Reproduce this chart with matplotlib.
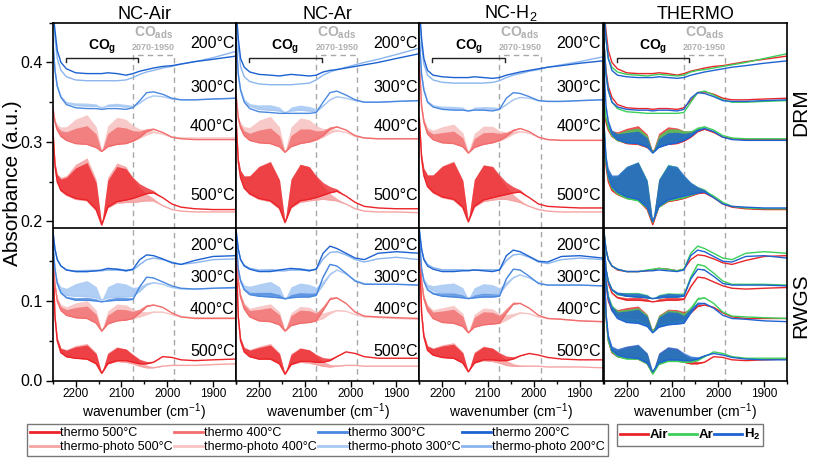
import numpy as np
import matplotlib
matplotlib.use("Agg")
import matplotlib.pyplot as plt
from matplotlib.lines import Line2D
from matplotlib.ticker import MultipleLocator

plt.rcParams['font.family'] = ['Liberation Sans', 'DejaVu Sans']
plt.rcParams['mathtext.fontset'] = 'custom'
plt.rcParams['mathtext.rm'] = 'Liberation Sans'
plt.rcParams['mathtext.it'] = 'Liberation Sans:italic'
plt.rcParams['mathtext.bf'] = 'Liberation Sans:bold'

# ---------------- data ----------------
wn = [2250, 2245, 2240, 2232, 2220, 2200, 2175, 2155, 2143, 2130, 2110,
      2090, 2075, 2060, 2045, 2030, 2010, 1990, 1970, 1940, 1900, 1850]
# normalised envelope of the gas-phase CO ro-vibrational band (P/R branches)
co_band_shape = [0, 0.08, 0.18, 0.30, 0.45, 0.80, 0.98, 0.70, 0.0, 0.70, 0.92,
                 0.82, 0.55, 0.32, 0.16, 0.06, 0, 0, 0, 0, 0, 0]
temps = ['500°C', '400°C', '300°C', '200°C']
columns = ['NC-Air', 'NC-Ar', 'NC-H$_2$', 'THERMO']
rows = ['DRM', 'RWGS']

# NC-Air, DRM
air_drm_t200 = [0.47, 0.44, 0.415, 0.400, 0.392, 0.387, 0.386, 0.386, 0.386, 0.387, 0.386, 0.384, 0.386, 0.389, 0.391, 0.393, 0.395, 0.396, 0.398, 0.401, 0.404, 0.408]
air_drm_p200 = [0.47, 0.43, 0.405, 0.390, 0.382, 0.378, 0.377, 0.377, 0.377, 0.377, 0.377, 0.378, 0.381, 0.385, 0.388, 0.390, 0.393, 0.395, 0.398, 0.401, 0.406, 0.414]
air_drm_t300 = [0.43, 0.39, 0.37, 0.356, 0.347, 0.343, 0.342, 0.342, 0.341, 0.342, 0.342, 0.341, 0.343, 0.352, 0.362, 0.363, 0.360, 0.355, 0.353, 0.353, 0.354, 0.355]
air_drm_p300 = [0.43, 0.39, 0.37, 0.357, 0.349, 0.346, 0.345, 0.345, 0.343, 0.345, 0.345, 0.344, 0.344, 0.349, 0.355, 0.358, 0.357, 0.354, 0.353, 0.353, 0.354, 0.355]
air_drm_t400 = [0.345, 0.325, 0.315, 0.307, 0.302, 0.298, 0.297, 0.293, 0.288, 0.294, 0.297, 0.298, 0.301, 0.306, 0.313, 0.316, 0.312, 0.306, 0.304, 0.303, 0.303, 0.303]
air_drm_p400 = [0.345, 0.325, 0.316, 0.308, 0.303, 0.300, 0.299, 0.294, 0.289, 0.295, 0.298, 0.299, 0.301, 0.305, 0.309, 0.312, 0.310, 0.306, 0.305, 0.305, 0.305, 0.305]
air_drm_t500 = [0.32, 0.27, 0.25, 0.239, 0.234, 0.229, 0.227, 0.215, 0.196, 0.218, 0.225, 0.227, 0.229, 0.232, 0.235, 0.236, 0.230, 0.222, 0.218, 0.216, 0.215, 0.215]
air_drm_p500 = [0.32, 0.27, 0.25, 0.239, 0.233, 0.228, 0.226, 0.214, 0.195, 0.217, 0.223, 0.224, 0.224, 0.225, 0.226, 0.226, 0.220, 0.215, 0.213, 0.212, 0.212, 0.212]
air_drm_band_thermo = [0.048, 0.024, 0.0, 0.0]
air_drm_band_photo = [0.055, 0.036, 0.004, 0.0]

# NC-Ar, DRM
ar_drm_t200 = [0.47, 0.43, 0.405, 0.394, 0.388, 0.385, 0.384, 0.383, 0.384, 0.385, 0.384, 0.383, 0.384, 0.388, 0.390, 0.391, 0.393, 0.395, 0.397, 0.400, 0.405, 0.411]
ar_drm_p200 = [0.47, 0.42, 0.395, 0.382, 0.376, 0.373, 0.372, 0.372, 0.372, 0.372, 0.373, 0.374, 0.378, 0.384, 0.388, 0.391, 0.394, 0.397, 0.400, 0.404, 0.410, 0.418]
ar_drm_t300 = [0.43, 0.385, 0.365, 0.350, 0.342, 0.338, 0.337, 0.336, 0.336, 0.336, 0.336, 0.336, 0.337, 0.350, 0.362, 0.364, 0.359, 0.353, 0.350, 0.350, 0.351, 0.352]
ar_drm_p300 = [0.43, 0.385, 0.366, 0.352, 0.345, 0.341, 0.340, 0.339, 0.337, 0.339, 0.340, 0.339, 0.338, 0.345, 0.353, 0.357, 0.355, 0.352, 0.350, 0.350, 0.351, 0.352]
ar_drm_t400 = [0.36, 0.33, 0.318, 0.308, 0.302, 0.299, 0.298, 0.294, 0.287, 0.294, 0.298, 0.300, 0.303, 0.308, 0.316, 0.319, 0.315, 0.308, 0.305, 0.304, 0.304, 0.304]
ar_drm_p400 = [0.36, 0.33, 0.318, 0.309, 0.303, 0.300, 0.299, 0.295, 0.288, 0.295, 0.299, 0.300, 0.302, 0.306, 0.311, 0.314, 0.312, 0.307, 0.305, 0.304, 0.304, 0.304]
ar_drm_t500 = [0.33, 0.275, 0.255, 0.242, 0.235, 0.229, 0.226, 0.217, 0.199, 0.218, 0.226, 0.228, 0.230, 0.233, 0.236, 0.238, 0.232, 0.224, 0.219, 0.217, 0.216, 0.216]
ar_drm_p500 = [0.33, 0.275, 0.255, 0.242, 0.234, 0.228, 0.225, 0.216, 0.198, 0.217, 0.224, 0.226, 0.227, 0.228, 0.227, 0.226, 0.222, 0.216, 0.213, 0.212, 0.212, 0.211]
ar_drm_band_thermo = [0.050, 0.020, 0.0, 0.0]
ar_drm_band_photo = [0.052, 0.034, 0.007, 0.0]

# NC-H2, DRM
h2_drm_t200 = [0.47, 0.43, 0.405, 0.390, 0.384, 0.382, 0.381, 0.381, 0.381, 0.382, 0.381, 0.380, 0.381, 0.384, 0.386, 0.388, 0.390, 0.392, 0.394, 0.396, 0.399, 0.402]
h2_drm_p200 = [0.47, 0.42, 0.398, 0.384, 0.378, 0.375, 0.374, 0.374, 0.374, 0.374, 0.374, 0.375, 0.377, 0.381, 0.384, 0.386, 0.389, 0.391, 0.394, 0.397, 0.401, 0.407]
h2_drm_t300 = [0.43, 0.385, 0.365, 0.350, 0.344, 0.341, 0.340, 0.340, 0.339, 0.340, 0.340, 0.339, 0.341, 0.355, 0.362, 0.361, 0.357, 0.352, 0.351, 0.351, 0.352, 0.353]
h2_drm_p300 = [0.43, 0.385, 0.366, 0.351, 0.345, 0.342, 0.341, 0.341, 0.339, 0.341, 0.341, 0.341, 0.341, 0.347, 0.353, 0.356, 0.355, 0.352, 0.351, 0.351, 0.352, 0.353]
h2_drm_t400 = [0.40, 0.345, 0.325, 0.310, 0.303, 0.299, 0.298, 0.294, 0.286, 0.293, 0.297, 0.299, 0.302, 0.307, 0.314, 0.317, 0.313, 0.306, 0.303, 0.302, 0.302, 0.302]
h2_drm_p400 = [0.40, 0.345, 0.325, 0.311, 0.304, 0.300, 0.299, 0.295, 0.287, 0.294, 0.298, 0.300, 0.301, 0.305, 0.310, 0.313, 0.311, 0.306, 0.303, 0.302, 0.302, 0.302]
h2_drm_t500 = [0.33, 0.28, 0.258, 0.244, 0.237, 0.231, 0.228, 0.218, 0.200, 0.219, 0.227, 0.230, 0.232, 0.234, 0.236, 0.237, 0.230, 0.222, 0.219, 0.218, 0.217, 0.217]
h2_drm_p500 = [0.33, 0.28, 0.258, 0.244, 0.236, 0.230, 0.227, 0.217, 0.199, 0.218, 0.225, 0.227, 0.228, 0.228, 0.226, 0.224, 0.219, 0.215, 0.213, 0.212, 0.212, 0.212]
h2_drm_band_thermo = [0.048, 0.016, 0.0, 0.0]
h2_drm_band_photo = [0.050, 0.024, 0.004, 0.0]

# NC-Air, RWGS
air_rwgs_t200 = [0.19, 0.165, 0.152, 0.144, 0.139, 0.137, 0.137, 0.138, 0.139, 0.141, 0.140, 0.138, 0.140, 0.152, 0.158, 0.157, 0.153, 0.148, 0.146, 0.151, 0.156, 0.157]
air_rwgs_p200 = [0.19, 0.165, 0.152, 0.144, 0.139, 0.137, 0.137, 0.138, 0.138, 0.139, 0.139, 0.138, 0.139, 0.146, 0.152, 0.154, 0.152, 0.149, 0.146, 0.148, 0.152, 0.153]
air_rwgs_t300 = [0.175, 0.14, 0.122, 0.110, 0.104, 0.101, 0.101, 0.100, 0.099, 0.100, 0.101, 0.101, 0.102, 0.118, 0.130, 0.129, 0.124, 0.119, 0.116, 0.115, 0.116, 0.117]
air_rwgs_p300 = [0.175, 0.14, 0.122, 0.112, 0.107, 0.106, 0.106, 0.104, 0.101, 0.104, 0.105, 0.105, 0.106, 0.112, 0.120, 0.123, 0.121, 0.117, 0.115, 0.115, 0.116, 0.116]
air_rwgs_t400 = [0.16, 0.12, 0.10, 0.088, 0.082, 0.079, 0.078, 0.072, 0.062, 0.071, 0.075, 0.076, 0.078, 0.085, 0.093, 0.095, 0.092, 0.085, 0.080, 0.078, 0.078, 0.078]
air_rwgs_p400 = [0.16, 0.12, 0.10, 0.089, 0.083, 0.080, 0.079, 0.073, 0.063, 0.072, 0.076, 0.077, 0.078, 0.080, 0.083, 0.086, 0.086, 0.083, 0.080, 0.079, 0.079, 0.079]
air_rwgs_t500 = [0.165, 0.08, 0.05, 0.035, 0.030, 0.028, 0.027, 0.021, 0.009, 0.021, 0.025, 0.025, 0.023, 0.021, 0.021, 0.023, 0.030, 0.029, 0.026, 0.025, 0.026, 0.027]
air_rwgs_p500 = [0.165, 0.08, 0.05, 0.035, 0.030, 0.028, 0.027, 0.021, 0.009, 0.021, 0.024, 0.023, 0.021, 0.018, 0.016, 0.016, 0.018, 0.019, 0.019, 0.019, 0.020, 0.021]
air_rwgs_band_thermo = [0.018, 0.016, 0.004, 0.0]
air_rwgs_band_photo = [0.020, 0.022, 0.020, 0.003]

# NC-Ar, RWGS
ar_rwgs_t200 = [0.19, 0.165, 0.152, 0.144, 0.140, 0.137, 0.137, 0.139, 0.140, 0.141, 0.140, 0.138, 0.140, 0.160, 0.169, 0.166, 0.160, 0.154, 0.152, 0.160, 0.162, 0.160]
ar_rwgs_p200 = [0.19, 0.165, 0.152, 0.145, 0.141, 0.138, 0.138, 0.138, 0.138, 0.139, 0.139, 0.138, 0.140, 0.153, 0.161, 0.162, 0.158, 0.152, 0.149, 0.153, 0.155, 0.152]
ar_rwgs_t300 = [0.18, 0.14, 0.125, 0.114, 0.108, 0.106, 0.105, 0.104, 0.103, 0.104, 0.105, 0.105, 0.107, 0.130, 0.146, 0.144, 0.135, 0.125, 0.121, 0.121, 0.121, 0.120]
ar_rwgs_p300 = [0.18, 0.14, 0.125, 0.115, 0.111, 0.108, 0.108, 0.106, 0.102, 0.106, 0.107, 0.107, 0.108, 0.120, 0.133, 0.139, 0.134, 0.126, 0.122, 0.121, 0.121, 0.120]
ar_rwgs_t400 = [0.17, 0.125, 0.105, 0.090, 0.080, 0.075, 0.074, 0.070, 0.062, 0.069, 0.072, 0.073, 0.075, 0.088, 0.102, 0.104, 0.097, 0.086, 0.081, 0.080, 0.079, 0.078]
ar_rwgs_p400 = [0.17, 0.125, 0.105, 0.091, 0.081, 0.076, 0.075, 0.071, 0.063, 0.070, 0.073, 0.074, 0.075, 0.078, 0.084, 0.088, 0.087, 0.083, 0.080, 0.079, 0.078, 0.077]
ar_rwgs_t500 = [0.165, 0.08, 0.05, 0.036, 0.030, 0.027, 0.027, 0.021, 0.008, 0.020, 0.024, 0.024, 0.023, 0.023, 0.025, 0.030, 0.036, 0.034, 0.030, 0.028, 0.028, 0.028]
ar_rwgs_p500 = [0.165, 0.08, 0.05, 0.036, 0.030, 0.027, 0.027, 0.021, 0.008, 0.020, 0.023, 0.022, 0.020, 0.018, 0.017, 0.018, 0.019, 0.019, 0.018, 0.018, 0.018, 0.018]
ar_rwgs_band_thermo = [0.018, 0.018, 0.006, 0.0]
ar_rwgs_band_photo = [0.020, 0.022, 0.017, 0.003]

# NC-H2, RWGS
h2_rwgs_t200 = [0.19, 0.165, 0.152, 0.144, 0.140, 0.137, 0.137, 0.138, 0.138, 0.139, 0.138, 0.137, 0.139, 0.157, 0.164, 0.162, 0.156, 0.150, 0.149, 0.156, 0.157, 0.154]
h2_rwgs_p200 = [0.19, 0.165, 0.153, 0.146, 0.142, 0.139, 0.139, 0.139, 0.139, 0.139, 0.139, 0.139, 0.139, 0.151, 0.158, 0.159, 0.155, 0.149, 0.147, 0.152, 0.154, 0.152]
h2_rwgs_t300 = [0.18, 0.14, 0.125, 0.114, 0.109, 0.106, 0.105, 0.104, 0.103, 0.104, 0.105, 0.105, 0.106, 0.128, 0.140, 0.139, 0.131, 0.122, 0.120, 0.120, 0.120, 0.119]
h2_rwgs_p300 = [0.18, 0.14, 0.126, 0.117, 0.113, 0.110, 0.109, 0.107, 0.103, 0.107, 0.109, 0.109, 0.109, 0.120, 0.129, 0.133, 0.129, 0.123, 0.120, 0.120, 0.120, 0.119]
h2_rwgs_t400 = [0.17, 0.125, 0.103, 0.088, 0.078, 0.073, 0.072, 0.068, 0.060, 0.067, 0.070, 0.071, 0.072, 0.085, 0.096, 0.097, 0.091, 0.082, 0.078, 0.077, 0.075, 0.074]
h2_rwgs_p400 = [0.17, 0.125, 0.103, 0.089, 0.079, 0.074, 0.073, 0.069, 0.061, 0.068, 0.071, 0.072, 0.072, 0.076, 0.081, 0.085, 0.084, 0.080, 0.078, 0.077, 0.075, 0.074]
h2_rwgs_t500 = [0.17, 0.085, 0.055, 0.038, 0.032, 0.029, 0.028, 0.022, 0.011, 0.022, 0.026, 0.026, 0.025, 0.025, 0.027, 0.031, 0.034, 0.032, 0.029, 0.027, 0.026, 0.026]
h2_rwgs_p500 = [0.17, 0.085, 0.055, 0.038, 0.032, 0.029, 0.028, 0.022, 0.011, 0.022, 0.025, 0.024, 0.022, 0.019, 0.018, 0.018, 0.018, 0.018, 0.017, 0.017, 0.017, 0.016]
h2_rwgs_band_thermo = [0.018, 0.018, 0.005, 0.0]
h2_rwgs_band_photo = [0.020, 0.022, 0.014, 0.002]

# ---------------- styles ----------------
thermo_colors = ['#ec2328', '#f26c6c', '#4a88e0', '#1c62d0']
photo_colors = ['#f5a3a3', '#f8c3c3', '#a9c9f3', '#8bb5ef']
gas_colors = ['#e8262a', '#3ccf5a', '#1f62d2']
dash_gray = '#a8a8a8'

sets = {
    ('NC-Air', 'DRM'): ([air_drm_t500, air_drm_t400, air_drm_t300, air_drm_t200],
                       [air_drm_p500, air_drm_p400, air_drm_p300, air_drm_p200],
                       air_drm_band_thermo, air_drm_band_photo),
    ('NC-Ar', 'DRM'): ([ar_drm_t500, ar_drm_t400, ar_drm_t300, ar_drm_t200],
                      [ar_drm_p500, ar_drm_p400, ar_drm_p300, ar_drm_p200],
                      ar_drm_band_thermo, ar_drm_band_photo),
    ('NC-H2', 'DRM'): ([h2_drm_t500, h2_drm_t400, h2_drm_t300, h2_drm_t200],
                      [h2_drm_p500, h2_drm_p400, h2_drm_p300, h2_drm_p200],
                      h2_drm_band_thermo, h2_drm_band_photo),
    ('NC-Air', 'RWGS'): ([air_rwgs_t500, air_rwgs_t400, air_rwgs_t300, air_rwgs_t200],
                        [air_rwgs_p500, air_rwgs_p400, air_rwgs_p300, air_rwgs_p200],
                        air_rwgs_band_thermo, air_rwgs_band_photo),
    ('NC-Ar', 'RWGS'): ([ar_rwgs_t500, ar_rwgs_t400, ar_rwgs_t300, ar_rwgs_t200],
                       [ar_rwgs_p500, ar_rwgs_p400, ar_rwgs_p300, ar_rwgs_p200],
                       ar_rwgs_band_thermo, ar_rwgs_band_photo),
    ('NC-H2', 'RWGS'): ([h2_rwgs_t500, h2_rwgs_t400, h2_rwgs_t300, h2_rwgs_t200],
                       [h2_rwgs_p500, h2_rwgs_p400, h2_rwgs_p300, h2_rwgs_p200],
                       h2_rwgs_band_thermo, h2_rwgs_band_photo),
}
nc_keys = ['NC-Air', 'NC-Ar', 'NC-H2']

x = np.array(wn, dtype=float)
shape = np.array(co_band_shape)

def draw(ax, base, amp, color, lw=1.0, z=2, alpha=0.78):
    base = np.array(base)
    if amp > 0:
        ax.fill_between(x, base, base + amp * shape, color=color, lw=0, zorder=z,
                        alpha=alpha)
    ax.plot(x, base, color=color, lw=lw, zorder=z + 0.1)

W, H = 813, 458
fig = plt.figure(figsize=(W / 100, H / 100), dpi=100)
lefts = [52.7, 236.0, 419.3, 603.7]
pw = 183.3
top_px, bot_px = 22.7, 380.5
axes = []
for i, lp in enumerate(lefts):
    ax = fig.add_axes([lp / W, (H - bot_px) / H, pw / W, (bot_px - top_px) / H])
    axes.append(ax)

temp_label_y = {'DRM': [0.233, 0.320, 0.369, 0.4235], 'RWGS': [0.037, 0.0896, 0.130, 0.170]}

for i, ax in enumerate(axes):
    ax.set_xlim(2250, 1850)
    ax.set_ylim(0, 0.45)
    for row in rows:
        if i < 3:
            th, ph, bt, bp = sets[(nc_keys[i], row)]
            for k in range(4):
                draw(ax, ph[k], bp[k], photo_colors[k], alpha=0.9)
                draw(ax, th[k], bt[k], thermo_colors[k], z=3, alpha=0.78)
            for k in range(4):
                ax.text(1853, temp_label_y[row][k], temps[k], ha='right', va='center',
                        fontsize=11.5, zorder=6)
        else:
            for g in range(3):
                th, ph, bt, bp = sets[(nc_keys[g], row)]
                for k in range(4):
                    draw(ax, th[k], bt[k], gas_colors[g], z=2 + g, alpha=0.8)
    # divider between DRM and RWGS
    ax.axhline(0.192, color='black', lw=1.2, zorder=7)
    # CO_ads dashed box
    ax.plot([2075, 2075, 1985, 1985], [0, 0.41, 0.41, 0], color=dash_gray, lw=1.0,
            dashes=(4, 3), zorder=1)
    ax.plot([2075, 1985], [0.0, 0.0], color=dash_gray, lw=1.0, dashes=(4, 3), zorder=1)
    # CO_g bracket
    ax.plot([2222, 2222, 2063, 2063], [0.400, 0.4058, 0.4058, 0.400], color='#222222',
            lw=1.0, zorder=6)
    ax.text(2142, 0.4195, r'$\mathbf{CO_g}$', ha='center', va='center', fontsize=10, zorder=6)
    ax.text(2030, 0.4375, r'$\mathbf{CO_{ads}}$', ha='center', va='center', fontsize=10,
            color='#b0b0b0', zorder=6)
    ax.text(2030, 0.4188, '2070-1950', ha='center', va='center', fontsize=6.5,
            fontweight='bold', color='#b0b0b0', zorder=6)

    ax.xaxis.set_major_locator(MultipleLocator(100))
    ax.xaxis.set_minor_locator(MultipleLocator(50))
    ax.tick_params(axis='x', which='major', direction='out', length=4, width=1,
                   labelsize=8.5, pad=1.5)
    ax.tick_params(axis='x', which='minor', direction='out', length=2.5, width=1)
    if i == 0:
        ax.yaxis.set_major_locator(MultipleLocator(0.1))
        ax.yaxis.set_minor_locator(MultipleLocator(0.05))
        ax.set_yticks([0.0, 0.1, 0.2, 0.3, 0.4])
        ax.set_yticklabels(['0.0', '0.1', '0.2', '0.3', '0.4'])
        ax.tick_params(axis='y', which='major', direction='out', length=5, width=1,
                       labelsize=11.5, pad=2)
        ax.tick_params(axis='y', which='minor', direction='out', length=3, width=1)
    else:
        ax.set_yticks([])
        ax.yaxis.set_minor_locator(plt.NullLocator())
    for s in ax.spines.values():
        s.set_linewidth(1.2)
        s.set_zorder(8)
    ax.set_xlabel('wavenumber (cm$^{-1}$)', fontsize=10, labelpad=1)
    ax.set_title(columns[i], fontsize=13, pad=3)

fig.text(13 / W, 1 - 183 / H, 'Absorbance (a.u.)', rotation=90, ha='center', va='center',
         fontsize=15)
fig.text(801 / W, 1 - 112 / H, 'DRM', rotation=90, ha='center', va='center', fontsize=15)
fig.text(801 / W, 1 - 306 / H, 'RWGS', rotation=90, ha='center', va='center', fontsize=15)

# legends
handles = []
labels = []
for k in range(4):
    handles.append(Line2D([], [], color=thermo_colors[k], lw=2))
    labels.append('thermo ' + temps[k])
    handles.append(Line2D([], [], color=photo_colors[k], lw=2))
    labels.append('thermo-photo ' + temps[k])
leg1 = fig.legend(handles, labels, ncol=4, loc='upper left',
                  bbox_to_anchor=(26.7 / W, 1 - 424.3 / H), fontsize=9,
                  handlelength=2.35, handletextpad=0.1, columnspacing=0.05,
                  labelspacing=0.12, borderpad=0.25, borderaxespad=0,
                  frameon=True, fancybox=False, edgecolor='#777777', framealpha=1)
leg1.get_frame().set_linewidth(1.0)

gh = [Line2D([], [], color=c, lw=2) for c in gas_colors]
leg2 = fig.legend(gh, ['Air', 'Ar', r'$\mathbf{H_2}$'], ncol=3, loc='upper left',
                  bbox_to_anchor=(616.7 / W, 1 - 424 / H),
                  prop={'size': 9.5, 'weight': 'bold'},
                  handlelength=2.1, handletextpad=0.15, columnspacing=0.05,
                  borderpad=0.25, borderaxespad=0,
                  frameon=True, fancybox=False, edgecolor='#777777', framealpha=1)
leg2.get_frame().set_linewidth(1.0)

fig.savefig('out.png', dpi=100)
